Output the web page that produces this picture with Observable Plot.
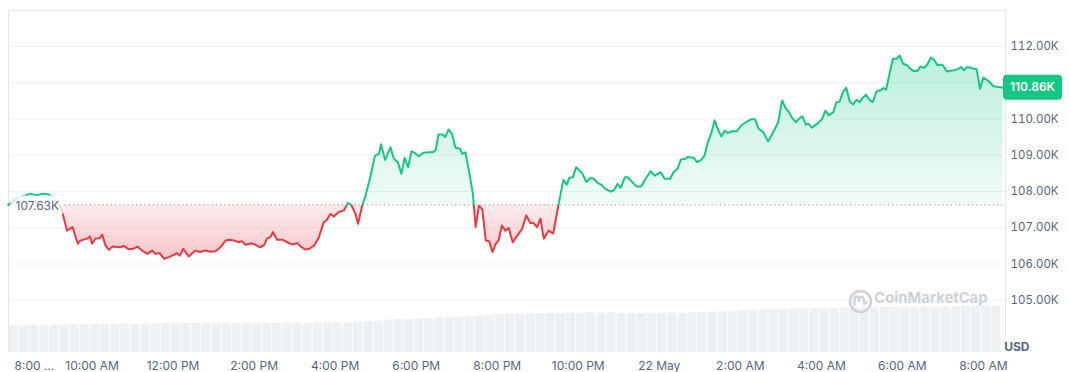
<!DOCTYPE html>
<html>
<head>
<meta charset="utf-8">
<script src="https://cdn.jsdelivr.net/npm/d3@7"></script>
<script src="https://cdn.jsdelivr.net/npm/@observablehq/plot@0.6"></script>
<style>
  html, body { margin: 0; padding: 0; background: #fff; }
  #chart { width: 1069px; height: 372px; }
</style>
</head>
<body>
<div id="chart"></div>
<script>
// ---- Data (minutes after 8:00 AM, 21 May; price in thousands USD) ----
const priceMinutes = [-4,7,17,29,38,47,56,64,74,83,91,99,103,113,117,120,125,131,135,140,
  145,150,162,167,174,181,187,194,202,209,214,220,227,234,241,246,250,255,263,273,
  280,288,295,303,310,318,323,330,337,342,347,357,364,369,375,379,384,388,394,402,
  409,416,424,429,436,442,449,456,463,467,473,478,485,493,499,504,510,514,520,525,
  532,539,545,548,554,562,567,573,578,583,588,593,598,604,611,619,625,629,633,639,
  643,648,653,658,665,668,673,678,684,688,693,698,703,708,713,718,722,727,732,737,
  743,750,757,763,769,774,779,784,789,796,803,811,818,823,827,832,837,846,852,858,
  863,869,874,880,888,893,898,903,909,913,920,926,933,940,947,953,962,968,976,981,
  987,992,999,1002,1011,1016,1022,1027,1032,1037,1042,1047,1052,1057,1061,1068,1075,1081,1090,1096,
  1102,1107,1114,1121,1129,1136,1142,1147,1152,1157,1162,1167,1172,1177,1181,1186,1194,1201,1206,1211,
  1218,1222,1227,1232,1237,1242,1247,1252,1257,1261,1266,1271,1276,1282,1288,1292,1296,1301,1306,1312,
  1316,1321,1327,1332,1337,1342,1347,1352,1357,1362,1367,1372,1379,1386,1396,1403,1407,1411,1416,1423,
  1430,1435,1440,1448,1455,1462,1469];
const prices = [107.63,107.78,107.86,107.94,107.89,107.94,107.92,107.75,107.57,106.92,107.02,106.56,106.65,106.70,106.76,106.56,106.70,106.71,106.81,106.51,
  106.39,106.48,106.46,106.50,106.41,106.42,106.48,106.37,106.28,106.37,106.28,106.30,106.14,106.19,106.25,106.30,106.23,106.42,106.21,106.37,
  106.33,106.37,106.34,106.35,106.46,106.65,106.67,106.65,106.60,106.63,106.53,106.57,106.51,106.46,106.53,106.70,106.74,106.88,106.67,106.67,
  106.60,106.54,106.57,106.48,106.40,106.42,106.51,106.74,107.15,107.20,107.38,107.31,107.43,107.48,107.68,107.63,107.38,107.11,107.61,107.89,
  108.39,108.99,109.04,109.30,108.87,109.22,108.90,108.81,108.49,108.93,108.67,109.11,109.06,108.97,109.07,109.08,109.08,109.15,109.57,109.57,
  109.50,109.71,109.59,109.21,109.18,109.04,109.08,108.58,107.94,107.02,107.61,107.50,106.65,106.63,106.33,106.56,106.65,107.06,106.92,106.99,
  106.60,106.79,106.97,107.34,107.13,107.13,107.02,107.25,106.70,106.92,106.84,107.66,108.32,108.19,108.38,108.39,108.67,108.50,108.26,108.37,
  108.35,108.23,108.19,108.07,108.00,108.03,108.21,108.10,108.39,108.39,108.26,108.14,108.14,108.35,108.56,108.44,108.53,108.35,108.35,108.53,
  108.63,108.88,108.90,108.95,108.93,108.81,108.87,108.99,109.36,109.61,109.96,109.70,109.52,109.68,109.61,109.66,109.66,109.82,109.93,109.99,
  109.99,109.73,109.64,109.38,109.64,109.91,110.51,110.30,110.19,110.02,109.91,110.01,110.07,109.84,109.87,109.76,109.87,109.99,110.23,110.10,
  110.19,110.45,110.48,110.74,110.86,110.48,110.40,110.53,110.46,110.58,110.67,110.53,110.46,110.77,110.79,110.85,110.81,111.25,111.66,111.66,
  111.75,111.52,111.48,111.38,111.32,111.32,111.45,111.41,111.50,111.69,111.63,111.48,111.50,111.31,111.34,111.38,111.43,111.34,111.43,111.40,
  111.37,110.83,111.14,111.04,110.90,110.88,110.86];

// 24h volume (billions USD), one bar every 15 minutes starting 7:56 AM
const volumeStartMinute = -4;
const volumeStepMinutes = 15;
const volumes = [50,49.5,50,50.5,50,51,
  51.5,52,52,52.5,52.5,53,52.5,
  53.5,53,53.5,54,53.5,54,54,54.5,54,53.5,54,54,53.5,54,54,54.5,54,54.5,54.5,55,55,
  56,57,58.5,60,
  61,61.5,62,62.5,
  63.5,64.5,65.5,66.5,
  68,69,70,70.5,
  71.5,72,72,72.5,72.5,
  73,73,73.5,73,73.5,73,73,72.5,73,73,73.5,73,73.5,74,
  75,75.5,76,77.5,78.5,79,
  79.5,80,80.5,81,81.5,82,
  82,82.5,82.5,83,83,83.5,83.5,84,84,84,84.5,84.5,85,85,85.5,85.5,
  86];

const basePrice = 107.63;   // price 24h ago
const lastPrice = 110.86;   // current price
const yTicks = [105,106,107,108,109,110,111,112];
const xTickMinutes = [0,120,240,360,480,600,720,840,960,1080,1200,1320,1440];
const xTickLabels = ["8:00 ...","10:00 AM","12:00 PM","2:00 PM","4:00 PM","6:00 PM","8:00 PM","10:00 PM","22 May","2:00 AM","4:00 AM","6:00 AM","8:00 AM"];
const currencyLabel = "USD";
const watermark = "CoinMarketCap";

// ---- Layout ----
const W = 1069, H = 372;
const M = {top: 10, right: 64, bottom: 20, left: 8};
const yDomain = [103.56, 112.99];
const xDomain = [-3.7, 1472.7];
const GREEN = "#16c784", RED = "#ea3943", TEXT = "#58667e";

const series = priceMinutes.map((m, i) => ({m, p: prices[i]}));
const volData = volumes.map((v, i) => ({
  m0: volumeStartMinute + i * volumeStepMinutes,
  m1: volumeStartMinute + (i + 1) * volumeStepMinutes,
  v
}));
const pricePerPx = (yDomain[1] - yDomain[0]) / (H - M.top - M.bottom);
const volPxPerBillion = 0.54;
const volTop = d => yDomain[0] + d.v * volPxPerBillion * pricePerPx;
const tickLabel = new Map(xTickMinutes.map((m, i) => [m, xTickLabels[i]]));
// axis labels hidden behind the current-price tag (as in the reference)
const tagHalf = 12.5 * pricePerPx;
const yLabelTicks = yTicks.filter(t => Math.abs(t - lastPrice) > tagHalf + 4 * pricePerPx);

const plot = Plot.plot({
  width: W, height: H,
  marginTop: M.top, marginRight: M.right, marginBottom: M.bottom, marginLeft: M.left,
  x: {type: "linear", domain: xDomain, axis: null, label: null},
  y: {type: "linear", domain: yDomain, axis: null, label: null},
  style: {fontFamily: "Inter, 'Noto Sans', sans-serif", background: "#fff", overflow: "visible"},
  marks: [
    Plot.gridY(yTicks, {stroke: "#eff2f5", strokeOpacity: 1}),
    Plot.ruleY([yDomain[1]], {stroke: "#e3e6ea"}),
    Plot.ruleX([xDomain[0], xDomain[1]], {stroke: "#e3e6ea"}),
    Plot.rectY(volData, {x1: "m0", x2: "m1", y1: yDomain[0], y2: volTop, fill: "#eef1f4", insetLeft: 1}),
    Plot.areaY(series, {x: "m", y1: basePrice, y2: "p", fill: GREEN}),
    Plot.areaY(series, {x: "m", y1: basePrice, y2: "p", fill: RED}),
    Plot.dot([watermark], {frameAnchor: "bottom-right", dx: -145, dy: -51, r: 10.5, stroke: "#cdd2d9", strokeWidth: 2.4, fill: "none"}),
    Plot.text([watermark], {text: d => d, frameAnchor: "bottom-right", dx: -18, dy: -50, textAnchor: "end", fill: "#cdd2d9", fontSize: 14.8, fontWeight: 700}),
    Plot.ruleY([basePrice], {x1: 74, x2: xDomain[1], stroke: "#8a919e", strokeDasharray: "1.2,3"}),
    Plot.line(series, {x: "m", y: "p", stroke: GREEN, strokeWidth: 2}),
    Plot.line(series, {x: "m", y: "p", stroke: RED, strokeWidth: 2}),
    Plot.text([basePrice], {y: d => d, frameAnchor: "left", dx: 7, dy: 1.5, textAnchor: "start",
      text: d => d.toFixed(2) + "K", fill: TEXT, stroke: "white", strokeWidth: 11, strokeOpacity: 0.8, fontSize: 12}),
    Plot.text(xTickMinutes.slice(0, 1), {x: d => d, frameAnchor: "bottom", dy: 17, dx: 3.5, textAnchor: "start",
      text: d => tickLabel.get(d), fill: TEXT, fontSize: 12}),
    Plot.text(xTickMinutes.slice(1), {x: d => d, frameAnchor: "bottom", dy: 17, textAnchor: "middle",
      text: d => tickLabel.get(d), fill: TEXT, fontSize: 12}),
    Plot.axisY(yLabelTicks, {anchor: "right", label: null, tickSize: 0, tickPadding: 5, tickFormat: d => d.toFixed(2) + "K",
      fill: TEXT, fontSize: 11.5}),
    Plot.text([currencyLabel], {text: d => d, frameAnchor: "bottom-right", dx: 24, dy: -2, fill: TEXT, fontWeight: 700, fontSize: 12})
  ]
});

document.getElementById("chart").appendChild(plot);

// ---- Split colouring above / below the 24h-ago price, gradients, price tag ----
const svg = d3.select(plot);
const yScale = plot.scale("y");
const by = yScale.apply(basePrice);
const defs = svg.insert("defs", ":first-child");
defs.append("clipPath").attr("id", "clipUp").append("rect")
  .attr("x", 0).attr("y", 0).attr("width", W).attr("height", by);
defs.append("clipPath").attr("id", "clipDown").append("rect")
  .attr("x", 0).attr("y", by).attr("width", W).attr("height", H - by);
const gG = defs.append("linearGradient").attr("id", "gGreen").attr("gradientUnits", "userSpaceOnUse")
  .attr("x1", 0).attr("x2", 0).attr("y1", M.top).attr("y2", by);
gG.append("stop").attr("offset", 0).attr("stop-color", GREEN).attr("stop-opacity", 0.36);
gG.append("stop").attr("offset", 1).attr("stop-color", GREEN).attr("stop-opacity", 0.06);
const gR = defs.append("linearGradient").attr("id", "gRed").attr("gradientUnits", "userSpaceOnUse")
  .attr("x1", 0).attr("x2", 0).attr("y1", by).attr("y2", yScale.apply(106.0));
gR.append("stop").attr("offset", 0).attr("stop-color", RED).attr("stop-opacity", 0.1);
gR.append("stop").attr("offset", 1).attr("stop-color", RED).attr("stop-opacity", 0.3);

const areas = svg.selectAll('g[aria-label="area"]').nodes();
d3.select(areas[0]).attr("clip-path", "url(#clipUp)").attr("fill", "url(#gGreen)")
  .selectAll("path").attr("fill", "url(#gGreen)");
d3.select(areas[1]).attr("clip-path", "url(#clipDown)").attr("fill", "url(#gRed)")
  .selectAll("path").attr("fill", "url(#gRed)");
const lines = svg.selectAll('g[aria-label="line"]').nodes();
d3.select(lines[0]).attr("clip-path", "url(#clipUp)");
d3.select(lines[1]).attr("clip-path", "url(#clipDown)");

// watermark logo stroke
const lx = W - M.right - 145, ly = H - M.bottom - 51;
svg.append("path")
  .attr("d", `M${lx-5.5},${ly+4} L${lx-5.5},${ly-1} C${lx-5.5},${ly-6} ${lx-1},${ly-6} ${lx-1},${ly} C${lx-1},${ly-6} ${lx+4},${ly-6} ${lx+4},${ly+1} L${lx+4},${ly+3} L${lx+6.5},${ly+1.5}`)
  .attr("fill", "none").attr("stroke", "#cdd2d9").attr("stroke-width", 2.2)
  .attr("stroke-linecap", "round").attr("stroke-linejoin", "round");

// current price tag
const py = yScale.apply(lastPrice);
const tag = svg.append("g");
tag.append("rect").attr("x", W - M.right - 2).attr("y", py - 12.5).attr("width", 59).attr("height", 25)
  .attr("rx", 4).attr("fill", GREEN);
tag.append("text").attr("x", W - M.right - 2 + 29.5).attr("y", py).attr("dy", "0.35em")
  .attr("text-anchor", "middle").attr("fill", "#fff").attr("font-size", 12).attr("font-weight", 600)
  .attr("font-family", "Inter, sans-serif")
  .text(lastPrice.toFixed(2) + "K");
</script>
</body>
</html>
